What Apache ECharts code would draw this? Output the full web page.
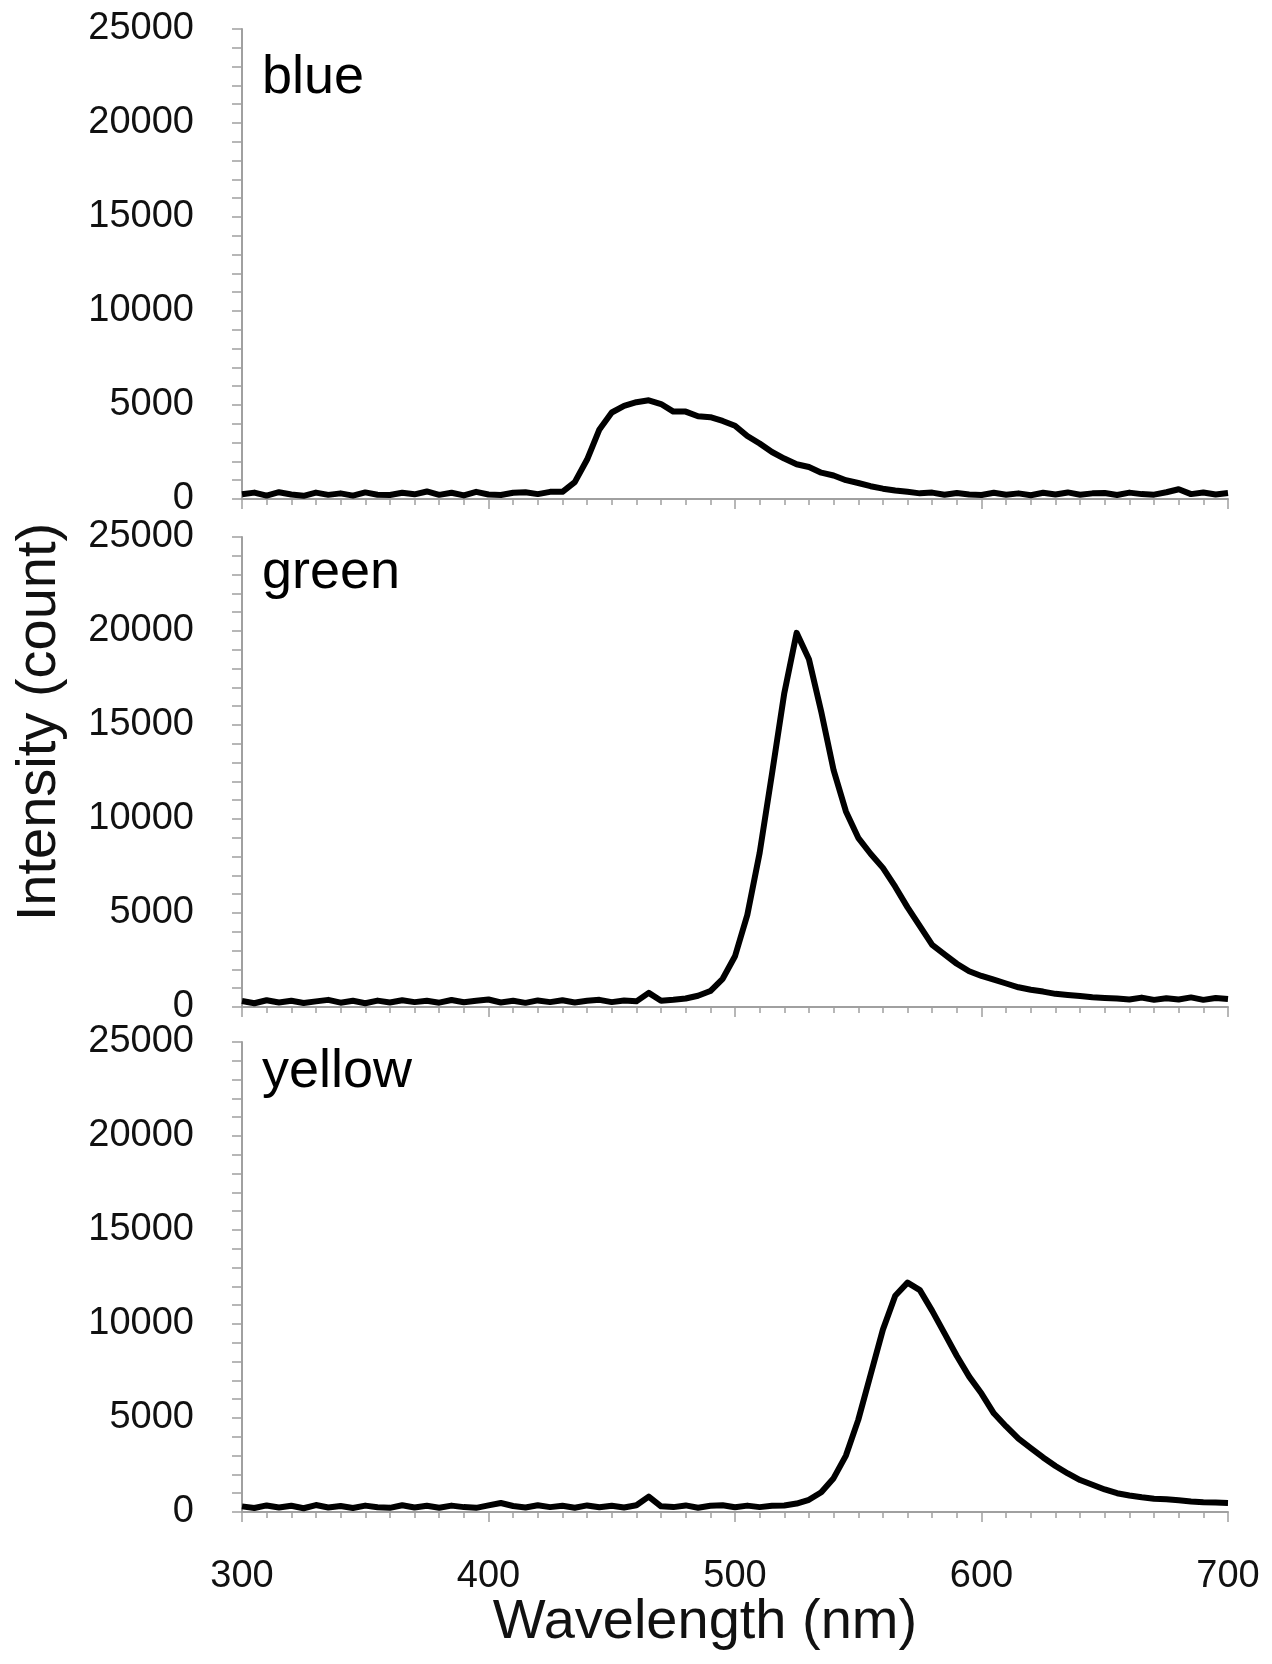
<!DOCTYPE html>
<head>
    <meta charset="utf-8">
    <title>Emission spectra</title>
    <script type="text/javascript" src="https://cdn.jsdelivr.net/npm/echarts@6.0.0/dist/echarts.min.js"></script>
</head>

<body style="margin:0;background:#fff">
<div id="main" style="width:1272px;height:1664px"></div>

<script type="text/javascript">

    // wavelength (nm), every 5 nm
    var wavelength = [300,305,310,315,320,325,330,335,340,345,350,355,360,365,370,375,380,385,390,395,
        400,405,410,415,420,425,430,435,440,445,450,455,460,465,470,475,480,485,490,495,
        500,505,510,515,520,525,530,535,540,545,550,555,560,565,570,575,580,585,590,595,
        600,605,610,615,620,625,630,635,640,645,650,655,660,665,670,675,680,685,690,695,700];

    // intensity (count)
    var blue = [250,340,180,360,240,170,340,220,300,180,350,230,210,330,250,400,220,330,190,380,
        240,210,330,360,260,380,380,900,2100,3700,4600,4950,5150,5250,5050,4650,4650,4400,4350,4150,
        3900,3350,2950,2500,2150,1850,1700,1400,1250,1000,850,680,550,450,380,300,340,230,320,240,
        210,330,230,300,200,330,240,350,230,300,320,210,340,260,230,360,520,260,350,240,320];

    var green = [320,200,360,240,330,210,300,380,230,330,200,340,240,360,260,330,230,370,250,330,
        400,240,330,220,350,260,360,240,330,380,260,350,300,750,330,380,450,600,850,1500,
        2700,4900,8200,12400,16700,19900,18500,15700,12600,10400,9000,8150,7400,6400,5300,4300,3300,2800,2300,1900,
        1650,1450,1250,1050,920,820,700,640,580,520,480,450,400,500,380,470,400,510,380,480,420];

    var yellow = [300,210,350,240,330,200,370,240,320,210,340,250,220,360,240,330,230,340,260,220,
        350,480,320,240,360,260,330,230,350,250,330,240,360,820,300,260,350,230,330,360,
        250,340,260,330,350,450,650,1050,1800,3000,4900,7300,9700,11500,12200,11800,10700,9500,8300,7200,
        6300,5250,4550,3900,3400,2900,2450,2050,1700,1450,1200,1000,880,780,700,680,620,560,520,500,480];

    var panelNames = ['blue', 'green', 'yellow'];
    var yTickLabels = [0, 5000, 10000, 15000, 20000, 25000];
    var xTickLabels = [300, 400, 500, 600, 700];

    var axisGray = '#a0a0a0';
    var labelFont = 'Liberation Sans, Arial, sans-serif';

    function pairs(vals) {
        var out = [];
        for (var i = 0; i < wavelength.length; i++) {
            out.push([wavelength[i], vals[i]]);
        }
        return out;
    }

    var grids = [
        {left: 242, right: 44, top: 29, height: 470},
        {left: 242, right: 44, top: 537, height: 470},
        {left: 242, right: 44, top: 1042, height: 470}
    ];

    var xAxes = [], yAxes = [];
    for (var g = 0; g < 3; g++) {
        xAxes.push({
            type: 'value',
            gridIndex: g,
            min: xTickLabels[0],
            max: xTickLabels[xTickLabels.length - 1],
            interval: 100,
            axisLine: {show: true, lineStyle: {color: axisGray, width: 2}},
            axisTick: {show: true, length: 10, lineStyle: {color: axisGray, width: 1.5}},
            minorTick: {show: true, splitNumber: 10, length: 6, lineStyle: {color: axisGray, width: 1.5}},
            splitLine: {show: false},
            axisLabel: {
                show: g === 2,
                margin: 46,
                color: '#111',
                fontSize: 38,
                fontFamily: labelFont
            }
        });
        yAxes.push({
            type: 'value',
            gridIndex: g,
            min: yTickLabels[0],
            max: yTickLabels[yTickLabels.length - 1],
            interval: 5000,
            axisLine: {show: true, lineStyle: {color: axisGray, width: 2}},
            axisTick: {show: true, length: 10, lineStyle: {color: axisGray, width: 1.5}},
            minorTick: {show: true, splitNumber: 5, length: 10, lineStyle: {color: axisGray, width: 1.5}},
            splitLine: {show: false},
            axisLabel: {
                margin: 48,
                color: '#111',
                fontSize: 38,
                fontFamily: labelFont,
                formatter: function (v) { return String(v); }
            }
        });
    }

    var seriesVals = [blue, green, yellow];
    var series = [];
    for (var s = 0; s < 3; s++) {
        series.push({
            name: panelNames[s],
            type: 'line',
            xAxisIndex: s,
            yAxisIndex: s,
            data: pairs(seriesVals[s]),
            showSymbol: false,
            lineStyle: {color: '#000', width: 6, join: 'round'},
            animation: false
        });
    }

    // panel names and axis titles
    var panelLabelY = [78, 573, 1072];
    var graphics = [];
    for (var p = 0; p < 3; p++) {
        graphics.push({
            type: 'text',
            x: 262,
            y: panelLabelY[p],
            style: {text: panelNames[p], font: '54px ' + labelFont, fill: '#000', verticalAlign: 'middle'}
        });
    }
    graphics.push({
        type: 'text',
        x: 40,
        y: 722,
        rotation: Math.PI / 2,
        style: {text: 'Intensity (count)', font: '56px ' + labelFont, fill: '#111',
            align: 'center', verticalAlign: 'middle'}
    });
    graphics.push({
        type: 'text',
        x: 705,
        y: 1623,
        style: {text: 'Wavelength (nm)', font: '56px ' + labelFont, fill: '#111',
            align: 'center', verticalAlign: 'middle'}
    });

    var myChart = echarts.init(document.getElementById('main'));
    var option = {
        backgroundColor: '#fff',
        animation: false,
        grid: grids,
        xAxis: xAxes,
        yAxis: yAxes,
        series: series,
        graphic: graphics
    };
    myChart.setOption(option);

</script>
</body>
